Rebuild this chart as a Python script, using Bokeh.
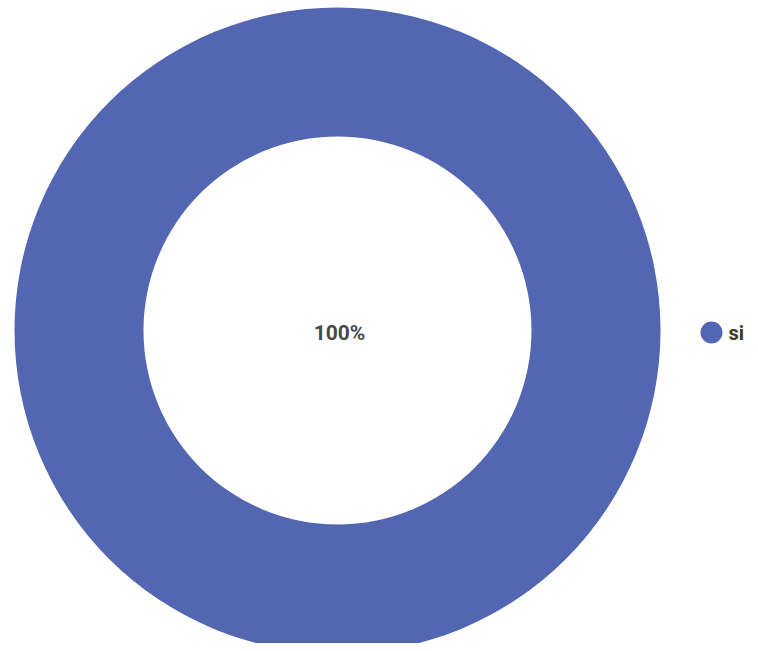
import numpy as np
from bokeh.plotting import figure
from bokeh.models import ColumnDataSource
from bokeh.core.properties import value
from bokeh.embed import file_html
from bokeh.resources import INLINE

categories = ["si"]
values = [100]
colors = ["#5366B2"]

W, H = 750, 643
p = figure(width=W, height=H, x_range=(0, W), y_range=(0, H),
           output_backend="svg", toolbar_location=None,
           min_border=0, outline_line_color=None)
p.axis.visible = False
p.grid.visible = False
p.background_fill_color = "white"
p.border_fill_color = "white"

cx, cy = 337, 313
r_out, r_in = 323, 194

vals = np.array(values, dtype=float)
frac = vals / vals.sum()
ends = np.cumsum(frac) * 2 * np.pi
starts = np.concatenate([[0], ends[:-1]])
src = ColumnDataSource(dict(start=np.pi/2 - ends, end=np.pi/2 - starts,
                            color=colors, cat=categories))
p.annular_wedge(x=cx, y=cy, inner_radius=r_in, outer_radius=r_out,
                start_angle="start", end_angle="end", color="color",
                line_color=None, source=src)

labels = [f"{f*100:.0f}%" for f in frac]
p.text(x=[cx + 2], y=[cy - 2], text=labels, text_align="center", text_baseline="middle",
       text_font=value("Roboto"), text_font_size="21px", text_font_style="bold",
       text_color="#4a4a4a")

ly = [cy - 2 - 24 * i for i in range(len(categories))]
p.scatter(x=[711] * len(categories), y=ly, size=22, color=colors, line_color=None)
p.text(x=[728] * len(categories), y=ly, text=categories, text_baseline="middle",
       text_font=value("Roboto"), text_font_size="20px", text_font_style="bold",
       text_color="#3a3a2a")

open("out.html", "w").write(file_html(p, INLINE))
